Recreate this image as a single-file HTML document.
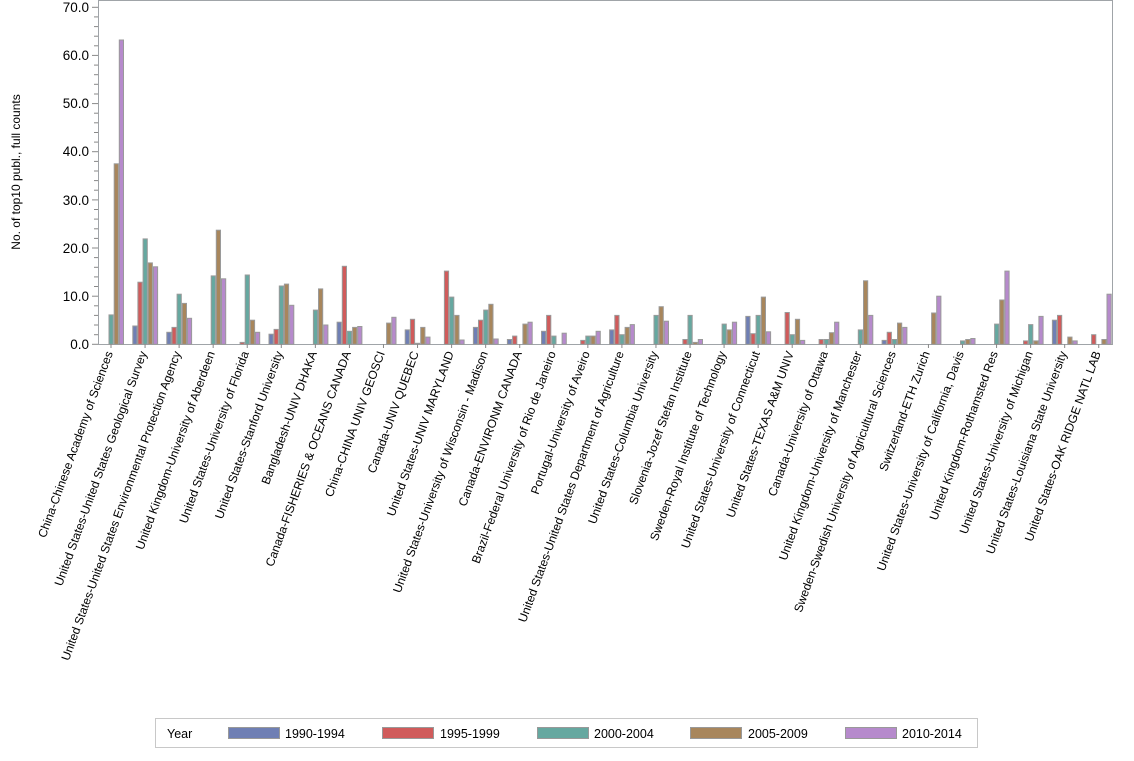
<!DOCTYPE html>
<html><head><meta charset="utf-8"><style>
body{margin:0;background:#fff;width:1134px;height:756px;overflow:hidden;font-family:"Liberation Sans",Arial,sans-serif}
svg text{font-family:"Liberation Sans",Arial,sans-serif;fill:#000}
</style></head><body>
<svg id="s" width="1134" height="756" viewBox="0 0 1134 756">
<rect x="98.5" y="0.5" width="1014" height="344" fill="none" stroke="#a0a4a8"/>
<g id="yax" font-size="13.5" text-anchor="end">
<text x="89" y="349">0.0</text><text x="89" y="301">10.0</text><text x="89" y="253">20.0</text>
<text x="89" y="205">30.0</text><text x="89" y="156">40.0</text><text x="89" y="108">50.0</text>
<text x="89" y="60">60.0</text><text x="89" y="12">70.0</text>
</g>
<text transform="translate(20,172) rotate(-90)" font-size="12" text-anchor="middle">No. of top10 publ., full counts</text>
<g id="bars"></g>
<g font-size="12" text-anchor="end" id="labs">
<text transform="translate(113,353) rotate(-70)">China-Chinese Academy of Sciences</text>
<text transform="translate(147,353) rotate(-70)">United States-United States Geological Survey</text>
<text transform="translate(181,353) rotate(-70)">United States-United States Environmental Protection Agency</text>
<text transform="translate(215,353) rotate(-70)">United Kingdom-University of Aberdeen</text>
<text transform="translate(249,353) rotate(-70)">United States-University of Florida</text>
<text transform="translate(283,353) rotate(-70)">United States-Stanford University</text>
<text transform="translate(317,353) rotate(-70)">Bangladesh-UNIV DHAKA</text>
<text transform="translate(351,353) rotate(-70)">Canada-FISHERIES &amp; OCEANS CANADA</text>
<text transform="translate(385,353) rotate(-70)">China-CHINA UNIV GEOSCI</text>
<text transform="translate(419,353) rotate(-70)">Canada-UNIV QUEBEC</text>
<text transform="translate(454,353) rotate(-70)">United States-UNIV MARYLAND</text>
<text transform="translate(488,353) rotate(-70)">United States-University of Wisconsin - Madison</text>
<text transform="translate(522,353) rotate(-70)">Canada-ENVIRONM CANADA</text>
<text transform="translate(556,353) rotate(-70)">Brazil-Federal University of Rio de Janeiro</text>
<text transform="translate(590,353) rotate(-70)">Portugal-University of Aveiro</text>
<text transform="translate(624,353) rotate(-70)">United States-United States Department of Agriculture</text>
<text transform="translate(658,353) rotate(-70)">United States-Columbia University</text>
<text transform="translate(692,353) rotate(-70)">Slovenia-Jozef Stefan Institute</text>
<text transform="translate(726,353) rotate(-70)">Sweden-Royal Institute of Technology</text>
<text transform="translate(760,353) rotate(-70)">United States-University of Connecticut</text>
<text transform="translate(794,353) rotate(-70)">United States-TEXAS A&amp;M UNIV</text>
<text transform="translate(828,353) rotate(-70)">Canada-University of Ottawa</text>
<text transform="translate(862,353) rotate(-70)">United Kingdom-University of Manchester</text>
<text transform="translate(896,353) rotate(-70)">Sweden-Swedish University of Agricultural Sciences</text>
<text transform="translate(930,353) rotate(-70)">Switzerland-ETH Zurich</text>
<text transform="translate(964,353) rotate(-70)">United States-University of California, Davis</text>
<text transform="translate(998,353) rotate(-70)">United Kingdom-Rothamsted Res</text>
<text transform="translate(1033,353) rotate(-70)">United States-University of Michigan</text>
<text transform="translate(1067,353) rotate(-70)">United States-Louisiana State University</text>
<text transform="translate(1101,353) rotate(-70)">United States-OAK RIDGE NATL LAB</text>
</g>
<rect x="155.5" y="718.5" width="822" height="29" fill="#fff" stroke="#c8c8c8"/>
<g font-size="12.5">
<text x="167" y="738">Year</text>
<rect x="228.5" y="727.5" width="51" height="11" fill="#6f7fb4" stroke="#999"/><text x="285" y="738">1990-1994</text>
<rect x="382.5" y="727.5" width="51" height="11" fill="#d05b5b" stroke="#999"/><text x="440" y="738">1995-1999</text>
<rect x="537.5" y="727.5" width="51" height="11" fill="#66a8a0" stroke="#999"/><text x="594" y="738">2000-2004</text>
<rect x="690.5" y="727.5" width="51" height="11" fill="#a8865c" stroke="#999"/><text x="748" y="738">2005-2009</text>
<rect x="845.5" y="727.5" width="51" height="11" fill="#b68acc" stroke="#999"/><text x="902" y="738">2010-2014</text>
</g>
</svg>
<script>
var d=[[0,0,6.1,37.5,63.2],[3.8,12.9,21.9,16.9,16.1],[2.5,3.5,10.4,8.5,5.4],[0,0,14.2,23.7,13.6],[0,0.4,14.4,5.0,2.5],[2.1,3.1,12.1,12.5,8.1],[0,0,7.1,11.5,4.0],[4.6,16.2,2.7,3.5,3.7],[0,0,0,4.4,5.6],[3.0,5.2,0.2,3.5,1.5],[0,15.2,9.8,6.0,0.9],[3.5,5.0,7.1,8.3,1.1],[1.0,1.7,0,4.2,4.6],[2.7,6.0,1.7,0,2.3],[0,0.8,1.7,1.7,2.7],[3.0,6.0,2.0,3.5,4.1],[0,0,6.0,7.8,4.8],[0,1.0,6.0,0.4,1.0],[0,0,4.2,3.0,4.6],[5.8,2.2,6.0,9.8,2.6],[0,6.6,2.0,5.2,0.8],[0,1.0,1.0,2.4,4.6],[0,0,3.0,13.2,6.0],[0.8,2.5,1.0,4.4,3.5],[0,0,0,6.5,10.0],[0,0,0.7,1.0,1.2],[0,0,4.2,9.2,15.2],[0,0.7,4.1,0.7,5.8],[5.0,6.0,0,1.5,0.7],[0,2.0,0,1.0,10.4]];
var c=["#6f7fb4","#d05b5b","#66a8a0","#a8865c","#b68acc"],h="",k=337/70;
for(var i=0;i<d.length;i++)for(var j=0;j<5;j++){var v=d[i][j];if(!v)continue;var x=98.2+34.06*i+5.15*j,hh=v*k;
h+='<rect x="'+(x+0.5).toFixed(1)+'" y="'+(344.3-hh).toFixed(1)+'" width="4.2" height="'+hh.toFixed(1)+'" fill="'+c[j]+'" stroke="#9a9a9a" stroke-width="1"/>';}
var t="";for(var m=0;m<=35;m++){var y=344.3-m*2*k;t+='<line x1="'+(m%5?94:92)+'" x2="98" y1="'+y.toFixed(1)+'" y2="'+y.toFixed(1)+'" stroke="#888"/>';}
for(var i=0;i<30;i++){var x=111+34.06*i;t+='<line x1="'+x+'" x2="'+x+'" y1="344" y2="348" stroke="#888"/>';}
document.getElementById("bars").innerHTML=h+t;
</script>
</body></html>
